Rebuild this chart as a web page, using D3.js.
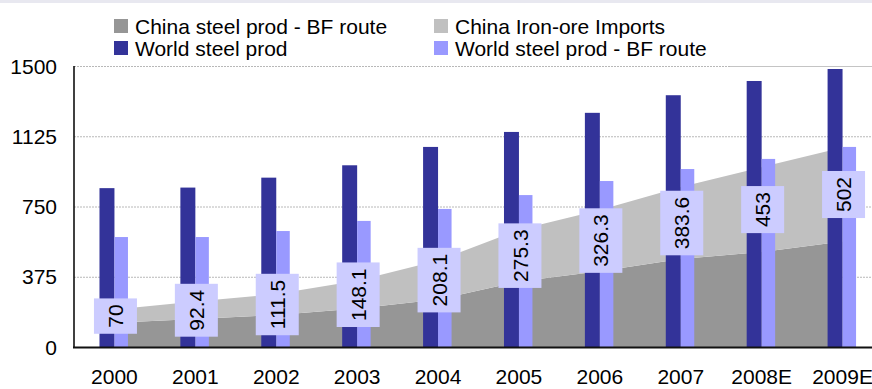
<!DOCTYPE html>
<html>
<head>
<meta charset="utf-8">
<script src="https://cdn.jsdelivr.net/npm/d3@7"></script>
<style>
  html, body { margin: 0; padding: 0; background: #fff; }
  svg { display: block; font-family: "Liberation Sans", Arial, sans-serif; }
</style>
</head>
<body>
<svg id="chart" width="872" height="389"></svg>
<script>
// Years on the category axis
const years = ["2000", "2001", "2002", "2003", "2004", "2005", "2006", "2007", "2008E", "2009E"];
// World crude steel production (Mt)
const worldSteel = [848, 851, 904, 970, 1068, 1148, 1250, 1344, 1420, 1484];
// World steel production via blast-furnace route (Mt)
const worldBF = [587, 587, 619, 673, 737, 811, 886, 950, 1004, 1068];
// China steel production via blast-furnace route (Mt)
const chinaBF = [130, 150, 171, 205, 253, 350, 405, 470, 507, 563];
// China iron-ore imports (Mt)
const chinaImports = [70, 92.4, 111.5, 148.1, 208.1, 275.3, 326.3, 383.6, 453, 502];
// Value-axis ticks
const yTicks = [0, 375, 750, 1125, 1500];

const colors = {
  chinaBF: "#969696",
  imports: "#c0c0c0",
  world: "#333399",
  worldBF: "#9999ff",
  labelBox: "#ccccff"
};

const svg = d3.select("#chart");
const W = 872, H = 389;

const x = d3.scaleBand().domain(years).range([74, 883]);
const y = d3.scaleLinear().domain([0, 1500]).range([347, 66]);
const cx = d => x(d) + x.bandwidth() / 2;

// thin header band
svg.append("rect").attr("x", 0).attr("y", 0).attr("width", W).attr("height", 3).attr("fill", "#e8e8f0");

// gridlines
svg.append("g").selectAll("line").data(yTicks.filter(t => t > 0)).join("line")
  .attr("x1", 74).attr("x2", W)
  .attr("y1", d => y(d) + 0.5).attr("y2", d => y(d) + 0.5)
  .attr("stroke", "#b8b8b8").attr("stroke-width", 1).attr("stroke-dasharray", "2,1");
svg.append("line")
  .attr("x1", 730).attr("x2", W).attr("y1", y(1500) + 0.5).attr("y2", y(1500) + 0.5)
  .attr("stroke", "#c4c4c4").attr("stroke-width", 1);

// stacked areas: China BF production + iron-ore imports
const rows = years.map((yr, i) => ({ year: yr, chinaBF: chinaBF[i], imports: chinaImports[i] }));
const stacked = d3.stack().keys(["chinaBF", "imports"])(rows);
const area = d3.area()
  .x(d => cx(d.data.year))
  .y0(d => y(d[0]))
  .y1(d => y(d[1]));
svg.append("g").selectAll("path").data(stacked).join("path")
  .attr("d", area)
  .attr("fill", d => colors[d.key]);

// bars
const bw = x.bandwidth();
const darkW = bw * 0.185, lightW = bw * 0.167;
const gBars = svg.append("g");
gBars.selectAll("rect.world").data(years).join("rect").attr("class", "world")
  .attr("x", d => cx(d) - darkW)
  .attr("width", darkW)
  .attr("y", (d, i) => y(worldSteel[i]))
  .attr("height", (d, i) => y(0) - y(worldSteel[i]))
  .attr("fill", colors.world);
gBars.selectAll("rect.worldbf").data(years).join("rect").attr("class", "worldbf")
  .attr("x", d => cx(d))
  .attr("width", lightW)
  .attr("y", (d, i) => y(worldBF[i]))
  .attr("height", (d, i) => y(0) - y(worldBF[i]))
  .attr("fill", colors.worldBF);

// axes lines
svg.append("line").attr("x1", 74).attr("x2", 74).attr("y1", y(1500)).attr("y2", y(0) + 1)
  .attr("stroke", "#000").attr("stroke-width", 1.5);
svg.append("line").attr("x1", 73).attr("x2", W).attr("y1", y(0) + 0.5).attr("y2", y(0) + 0.5)
  .attr("stroke", "#111").attr("stroke-width", 2);

// import value labels, rotated in boxes
const gLab = svg.append("g");
years.forEach((yr, i) => {
  const px = cx(yr) + 1;
  const py = y(chinaBF[i] + chinaImports[i] / 2);
  const g = gLab.append("g").attr("transform", `translate(${px},${py})`);
  const rect = g.append("rect").attr("fill", colors.labelBox);
  const t = g.append("text")
    .attr("transform", "rotate(-90)")
    .attr("text-anchor", "middle")
    .attr("dy", "0.36em")
    .attr("font-size", 21)
    .attr("fill", "#000")
    .text(chinaImports[i]);
  const len = t.node().getComputedTextLength();
  const h = len + 12, w = 43;
  rect.attr("x", -w / 2).attr("y", -h / 2).attr("width", w).attr("height", h);
});

// y tick labels
svg.append("g").selectAll("text").data(yTicks).join("text")
  .attr("x", 57).attr("y", d => y(d))
  .attr("dy", "0.36em")
  .attr("text-anchor", "end")
  .attr("font-size", 21)
  .text(d => d);

// x category labels
svg.append("g").selectAll("text").data(years).join("text")
  .attr("x", d => cx(d)).attr("y", 384)
  .attr("text-anchor", "middle")
  .attr("font-size", 21)
  .text(d => d);

// legend
const legend = [
  { label: "China steel prod - BF route", color: colors.chinaBF, col: 0, row: 0 },
  { label: "China Iron-ore Imports", color: colors.imports, col: 1, row: 0 },
  { label: "World steel prod", color: colors.world, col: 0, row: 1 },
  { label: "World steel prod - BF route", color: colors.worldBF, col: 1, row: 1 }
];
const colX = [114, 434], rowY = [19, 41];
const gLeg = svg.append("g");
legend.forEach(l => {
  gLeg.append("rect").attr("x", colX[l.col]).attr("y", rowY[l.row])
    .attr("width", 14).attr("height", 14).attr("fill", l.color);
  gLeg.append("text").attr("x", colX[l.col] + 21).attr("y", rowY[l.row] + 14.5)
    .attr("font-size", 21).text(l.label);
});
</script>
</body>
</html>
